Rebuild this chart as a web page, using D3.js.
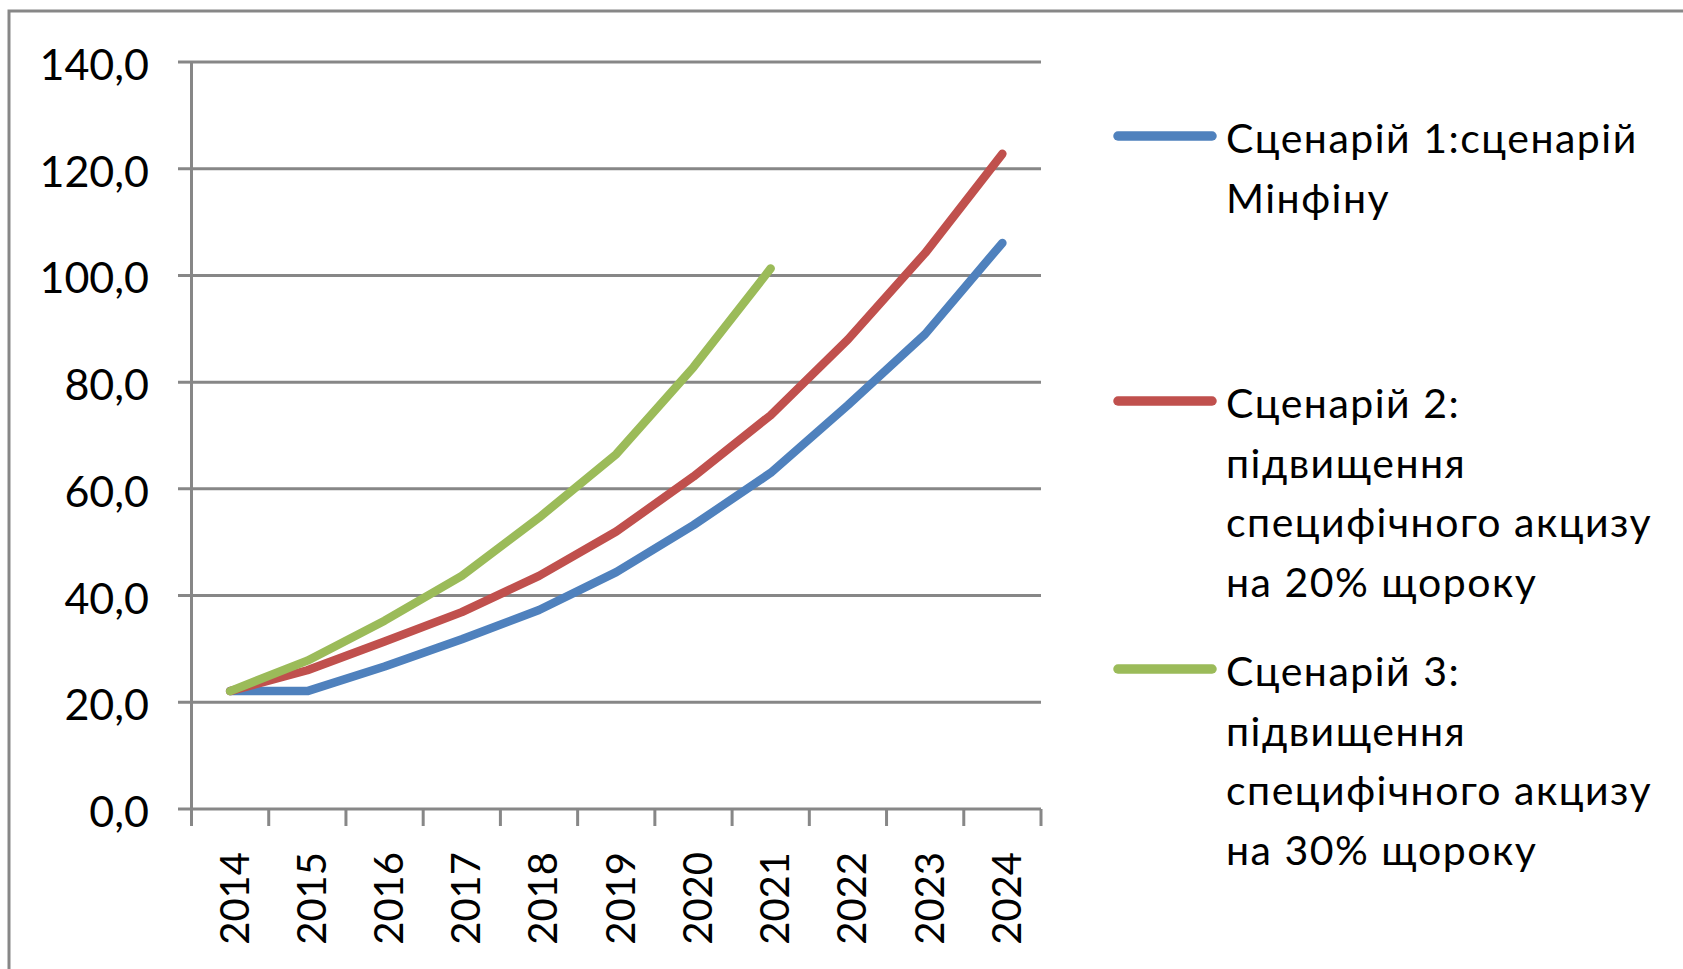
<!DOCTYPE html>
<html>
<head>
<meta charset="utf-8">
<script src="https://cdn.jsdelivr.net/npm/d3@7"></script>
<style>
  body { margin: 0; background: #fff; }
  svg { display: block; font-family: Lato, "Open Sans", sans-serif; }
</style>
</head>
<body>
<div id="chart"></div>
<script>
// data
var years = ['2014', '2015', '2016', '2017', '2018', '2019', '2020', '2021', '2022', '2023', '2024'];
var scenario1 = [22.1, 22.1, 26.7, 31.8, 37.3, 44.4, 53.2, 63.0, 75.7, 89.0, 106.1];
var scenario2 = [22.1, 26.0, 31.4, 36.9, 43.7, 52.0, 62.3, 73.8, 88.0, 104.2, 122.8];
var scenario3 = [22.1, 27.8, 35.3, 43.7, 54.6, 66.5, 82.8, 101.3, null, null, null];
var yTicks = [0, 20, 40, 60, 80, 100, 120, 140];
var seriesNames = [
  ['Сценарій 1:сценарій', 'Мінфіну'],
  ['Сценарій 2:', 'підвищення', 'специфічного акцизу', 'на 20% щороку'],
  ['Сценарій 3:', 'підвищення', 'специфічного акцизу', 'на 30% щороку']
];
var colors = ['#4f81bd', '#c0504d', '#9bbb59'];

var W = 1683, H = 969;
var grid = '#878787';

var svg = d3.select('#chart')
  .append('svg')
  .attr('width', W)
  .attr('height', H);

// outer frame (runs off the right and bottom edges)
svg.append('rect')
  .attr('x', 9)
  .attr('y', 11)
  .attr('width', W + 20)
  .attr('height', H + 20)
  .style('fill', 'none')
  .style('stroke', grid)
  .style('stroke-width', 3);

var x = d3.scaleBand()
  .domain(years)
  .range([191.5, 1041]);

var y = d3.scaleLinear()
  .domain([0, 140])
  .range([809, 62]);

// horizontal gridlines with the small left tick
svg.append('g')
  .selectAll('line')
  .data(yTicks)
  .join('line')
  .attr('x1', 178)
  .attr('x2', 1041)
  .attr('y1', d => y(d))
  .attr('y2', d => y(d))
  .style('stroke', grid)
  .style('stroke-width', 3);

// y axis line
svg.append('line')
  .attr('x1', x.range()[0])
  .attr('x2', x.range()[0])
  .attr('y1', y(140))
  .attr('y2', y(0) + 17)
  .style('stroke', grid)
  .style('stroke-width', 3);

// x ticks between categories
var tickXs = years.map(d => x(d) + x.bandwidth());
svg.append('g')
  .selectAll('line')
  .data(tickXs)
  .join('line')
  .attr('x1', d => d)
  .attr('x2', d => d)
  .attr('y1', y(0))
  .attr('y2', y(0) + 17)
  .style('stroke', grid)
  .style('stroke-width', 3);

// y labels
svg.append('g')
  .selectAll('text')
  .data(yTicks)
  .join('text')
  .attr('x', 149)
  .attr('y', d => y(d))
  .attr('dy', '0.42em')
  .attr('text-anchor', 'end')
  .style('font-size', '43px')
  .style('fill', '#000')
  .text(d => d3.format('.1f')(d).replace('.', ','));

// x labels, rotated
svg.append('g')
  .selectAll('text')
  .data(years)
  .join('text')
  .attr('transform', d => 'translate(' + (x(d) + x.bandwidth() / 2 + 4) + ',852) rotate(-90)')
  .attr('dy', '0.36em')
  .attr('text-anchor', 'end')
  .style('font-size', '40px')
  .style('fill', '#000')
  .text(d => d);

// series lines
var line = d3.line()
  .defined(d => d.v != null)
  .x(d => x(d.year) + x.bandwidth() / 2)
  .y(d => y(d.v));

[scenario1, scenario2, scenario3].forEach(function (vals, i) {
  var pts = years.map((yr, j) => ({year: yr, v: vals[j]}));
  svg.append('path')
    .datum(pts)
    .attr('d', line)
    .style('fill', 'none')
    .style('stroke', colors[i])
    .style('stroke-width', 8.5)
    .style('stroke-linecap', 'round')
    .style('stroke-linejoin', 'round');
});

// legend
var legendY = [136, 401, 669];
var lg = svg.append('g');
seriesNames.forEach(function (lines, i) {
  lg.append('line')
    .attr('x1', 1118)
    .attr('x2', 1212)
    .attr('y1', legendY[i])
    .attr('y2', legendY[i])
    .style('stroke', colors[i])
    .style('stroke-width', 9.5)
    .style('stroke-linecap', 'round');
  var t = lg.append('text')
    .style('font-size', '41px')
    .style('letter-spacing', '1.5px')
    .style('fill', '#000');
  lines.forEach(function (s, k) {
    t.append('tspan')
      .attr('x', 1226)
      .attr('y', legendY[i] + 17 + k * 59.5)
      .text(s);
  });
});
</script>
</body>
</html>
